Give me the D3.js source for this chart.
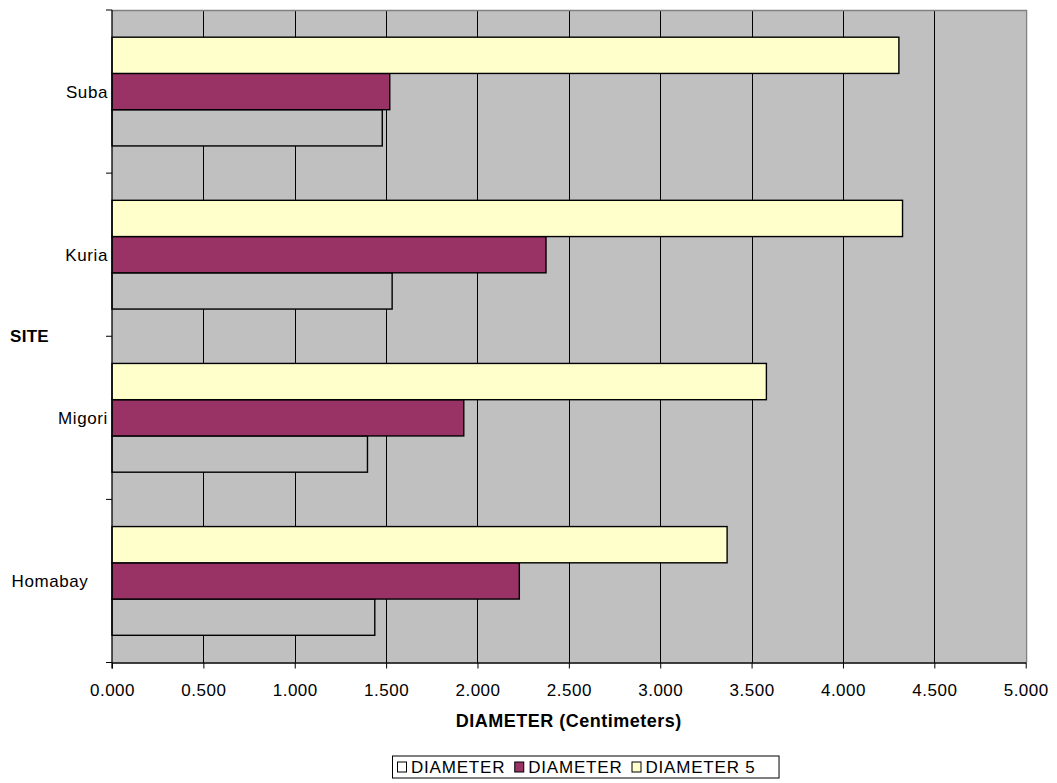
<!DOCTYPE html>
<html>
<head>
<meta charset="utf-8">
<script src="https://cdn.jsdelivr.net/npm/d3@7"></script>
<style>
  html, body { margin: 0; padding: 0; background: #ffffff; }
  svg { display: block; }
  text { font-family: Arial, "Liberation Sans", sans-serif; fill: #000; }
</style>
</head>
<body>
<svg id="chart" width="1057" height="783"></svg>
<script>
// Sites, listed bottom-to-top as in the source worksheet
const sites = ["Homabay", "Migori", "Kuria", "Suba"];

// Series names (two share the same header text)
const seriesNames = ["DIAMETER", "DIAMETER", "DIAMETER 5"];

// Mean diameters (cm) per site
const diameter1 = [1.438, 1.398, 1.533, 1.479];
const diameter2 = [2.229, 1.925, 2.375, 1.520];
const diameter5 = [3.366, 3.581, 4.326, 4.306];

const xTicks = [0, 0.5, 1, 1.5, 2, 2.5, 3, 3.5, 4, 4.5, 5];

const barFills = ["#C0C0C0", "#993366", "#FFFFCC"];
const keyFills = ["#FFFFFF", "#993366", "#FFFFCC"];

const seriesValues = [diameter1, diameter2, diameter5];

const svg = d3.select("#chart");
const plot = { left: 112, right: 1025.7, top: 10, bottom: 662.5 };
const FONT = 17;

const x = d3.scaleLinear().domain([0, 5]).range([plot.left, plot.right]);

// Top band is the last site, as in a horizontal Excel bar chart
const y = d3.scaleBand()
  .domain(sites.slice().reverse())
  .range([plot.top, plot.bottom])
  .paddingInner(1 / 3)
  .paddingOuter(1 / 6);

// Within each site the last series sits on top
const ySub = d3.scaleBand()
  .domain([2, 1, 0])
  .range([0, y.bandwidth()]);

// Plot background
svg.append("rect")
  .attr("x", plot.left).attr("y", plot.top)
  .attr("width", plot.right - plot.left).attr("height", plot.bottom - plot.top)
  .attr("fill", "#C0C0C0");

// Vertical gridlines
svg.append("g").selectAll("line")
  .data(xTicks.filter(t => t > 0 && t < 5))
  .join("line")
  .attr("x1", d => Math.round(x(d)) + 0.5).attr("x2", d => Math.round(x(d)) + 0.5)
  .attr("y1", plot.top).attr("y2", plot.bottom)
  .attr("stroke", "#000").attr("stroke-width", 1);

// Plot border (top and right)
svg.append("path")
  .attr("d", `M${plot.left},${plot.top + 0.5}H${Math.round(plot.right) + 0.5}V${plot.bottom}`)
  .attr("fill", "none").attr("stroke", "#808080").attr("stroke-width", 1.5);

// Bars
const rows = sites.map((s, i) => ({ site: s, values: seriesValues.map(v => v[i]) }));
const groups = svg.append("g").selectAll("g")
  .data(rows)
  .join("g")
  .attr("transform", d => `translate(0,${y(d.site)})`);

groups.selectAll("rect")
  .data(d => d.values.map((v, k) => ({ k, v })))
  .join("rect")
  .attr("x", x(0))
  .attr("y", d => ySub(d.k))
  .attr("width", d => x(d.v) - x(0))
  .attr("height", ySub.bandwidth())
  .attr("fill", d => barFills[d.k])
  .attr("stroke", "#000")
  .attr("stroke-width", 1.4);

// X axis
const xAxis = d3.axisBottom(x)
  .tickValues(xTicks)
  .tickFormat(d3.format(".3f"))
  .tickSizeInner(6)
  .tickSizeOuter(0)
  .tickPadding(15);

const gx = svg.append("g")
  .attr("transform", `translate(0,${plot.bottom})`)
  .call(xAxis);
gx.select(".domain").attr("stroke", "#000").attr("stroke-width", 1.3);
gx.selectAll(".tick line").attr("stroke", "#000");
gx.selectAll(".tick text")
  .attr("font-size", FONT).attr("letter-spacing", 0.5)
  .attr("font-family", "Arial, 'Liberation Sans', sans-serif");

// Y axis line and ticks at band boundaries
const step = y.step();
const boundaries = d3.range(sites.length + 1).map(i => plot.top + i * step);
svg.append("line")
  .attr("x1", plot.left).attr("x2", plot.left)
  .attr("y1", plot.top).attr("y2", plot.bottom + 6)
  .attr("stroke", "#000").attr("stroke-width", 1.3);
svg.append("g").selectAll("line")
  .data(boundaries)
  .join("line")
  .attr("x1", plot.left - 6).attr("x2", plot.left)
  .attr("y1", d => d).attr("y2", d => d)
  .attr("stroke", "#000");

// Category labels: right-aligned against the axis, long names centred in the gutter
const gutter = 100;
const catLabels = svg.append("g").selectAll("text")
  .data(sites)
  .join("text")
  .attr("font-size", FONT)
  .attr("letter-spacing", 0.6)
  .attr("y", d => y(d) + y.bandwidth() / 2 + 6)
  .text(d => d);
catLabels.each(function () {
  const el = d3.select(this);
  const w = this.getComputedTextLength();
  if (w > 0.7 * gutter) {
    el.attr("x", gutter / 2).attr("text-anchor", "middle");
  } else {
    el.attr("x", plot.left - 4).attr("text-anchor", "end");
  }
});

// Axis titles
svg.append("text")
  .attr("x", (plot.left + plot.right) / 2)
  .attr("y", 727)
  .attr("text-anchor", "middle")
  .attr("font-size", 18)
  .attr("font-weight", "bold")
  .attr("letter-spacing", 0.5)
  .text("DIAMETER (Centimeters)");

svg.append("text")
  .attr("x", 10)
  .attr("y", (plot.top + plot.bottom) / 2 + 6)
  .attr("font-size", FONT)
  .attr("font-weight", "bold")
  .attr("letter-spacing", 0.3)
  .text("SITE");

// Legend
const legend = svg.append("g").attr("transform", "translate(392,755.5)");
const legendBox = legend.append("rect")
  .attr("x", 0.5).attr("y", 0.5)
  .attr("height", 22)
  .attr("fill", "#fff").attr("stroke", "#000");

let cursor = 5;
let lastEnd = 0;
seriesNames.forEach((name, k) => {
  legend.append("rect")
    .attr("x", cursor + 0.5).attr("y", 6.5)
    .attr("width", 9).attr("height", 10)
    .attr("fill", keyFills[k]).attr("stroke", "#000");
  const t = legend.append("text")
    .attr("x", cursor + 14)
    .attr("y", 17.5)
    .attr("font-size", FONT)
    .attr("letter-spacing", 0.8)
    .text(name);
  lastEnd = cursor + 14 + t.node().getComputedTextLength();
  cursor = lastEnd + 9;
});
legendBox.attr("width", lastEnd + 23);
</script>
</body>
</html>
